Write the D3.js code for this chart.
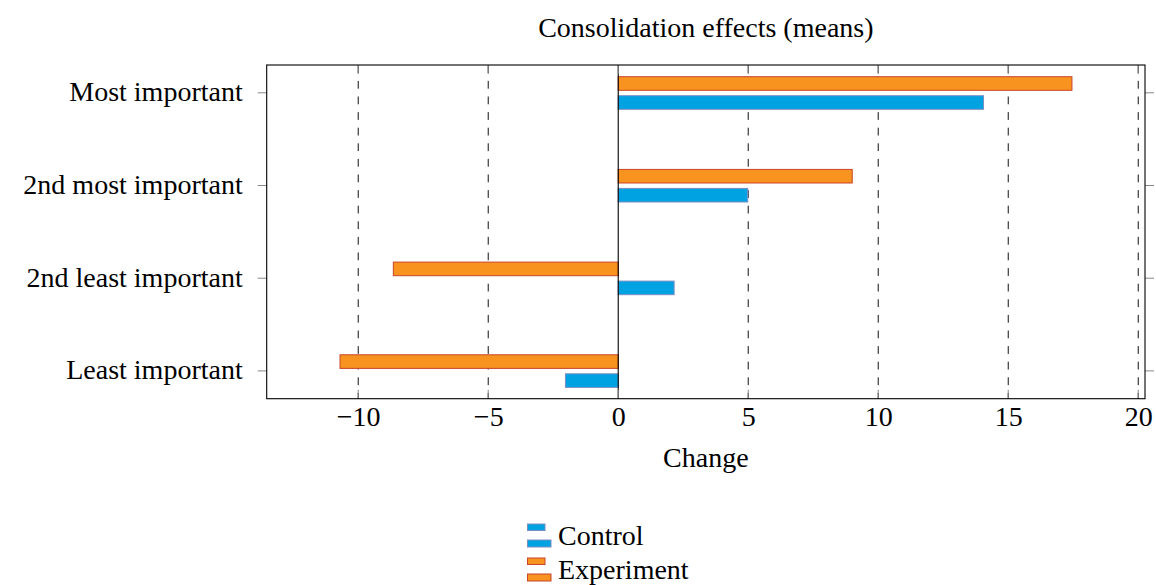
<!DOCTYPE html>
<html>
<head>
<meta charset="utf-8">
<script src="https://cdn.jsdelivr.net/npm/d3@7"></script>
<style>
  body { margin: 0; background: #fff; }
</style>
</head>
<body>
<svg id="chart" width="1156" height="585"></svg>
<script>
// data
var categories = ["Most important", "2nd most important", "2nd least important", "Least important"];
var controlValues = [14.05, 4.98, 2.15, -2.03];
var experimentValues = [17.45, 9.0, -8.65, -10.7];
var xTickValues = [-10, -5, 0, 5, 10, 15, 20];
var seriesNames = ["Control", "Experiment"];

var fillColor = {Control: "#00a2e1", Experiment: "#f7931e"};
var strokeColor = {Control: "#7b8ec4", Experiment: "#c9452a"};

var svg = d3.select("#chart");
var fontFam = "'Liberation Serif', 'DejaVu Serif', serif";
var fontSize = 28;

var plotLeft = 266.7, plotRight = 1145, plotTop = 65, plotBottom = 398.7;

var xScale = d3.scaleLinear()
    .domain([-13.52, 20.26])
    .range([plotLeft, plotRight]);

var yScale = d3.scaleLinear()
    .domain([-0.3, 3.3])
    .range([plotTop, plotBottom]);

var barH = 13.6;

function addText(sel) {
    return sel.append("text")
	.attr("font-family", fontFam)
	.attr("font-size", fontSize)
	.attr("fill", "#000");
}

function drawGrid() {
    var g = svg.append("g").attr("class", "grid");
    g.selectAll("line")
	.data(xTickValues.filter(function(d){return d != 0;}))
	.enter().append("line")
	.attr("x1", function(d){return xScale(d);})
	.attr("x2", function(d){return xScale(d);})
	.attr("y1", plotBottom)
	.attr("y2", plotTop)
	.attr("stroke", "#111")
	.attr("stroke-width", 1)
	.attr("stroke-dasharray", "7.8,7.8")
	.attr("stroke-dashoffset", 2);
}

function drawBars() {
    var rows = categories.map(function(c, i){
	return [
	    {name: "Experiment", i: i, v: experimentValues[i], off: -16.1},
	    {name: "Control", i: i, v: controlValues[i], off: 2.9}
	];
    });
    var flat = d3.merge(rows);

    svg.append("g").attr("class", "bars")
	.selectAll("rect")
	.data(flat)
	.enter().append("rect")
	.attr("x", function(d){return xScale(Math.min(0, d.v));})
	.attr("y", function(d){return yScale(d.i) + d.off;})
	.attr("width", function(d){return Math.abs(xScale(d.v) - xScale(0));})
	.attr("height", barH)
	.attr("fill", function(d){return fillColor[d.name];})
	.attr("stroke", function(d){return strokeColor[d.name];})
	.attr("stroke-width", 1);

    // zero line
    svg.append("line")
	.attr("x1", xScale(0)).attr("x2", xScale(0))
	.attr("y1", plotTop).attr("y2", plotBottom)
	.attr("stroke", "#000")
	.attr("stroke-width", 1.1);
}

function drawAxes() {
    // x ticks, inside, top and bottom
    var tickG = svg.append("g").attr("class", "ticks");
    xTickValues.forEach(function(d){
	tickG.append("line")
	    .attr("x1", xScale(d)).attr("x2", xScale(d))
	    .attr("y1", plotTop).attr("y2", plotTop + 9)
	    .attr("stroke", "#888").attr("stroke-width", 1);
	tickG.append("line")
	    .attr("x1", xScale(d)).attr("x2", xScale(d))
	    .attr("y1", plotBottom).attr("y2", plotBottom - 9)
	    .attr("stroke", "#888").attr("stroke-width", 1);
    });
    // y ticks, outside, left and right
    categories.forEach(function(c, i){
	tickG.append("line")
	    .attr("x1", plotLeft - 9).attr("x2", plotLeft)
	    .attr("y1", yScale(i)).attr("y2", yScale(i))
	    .attr("stroke", "#888").attr("stroke-width", 1);
	tickG.append("line")
	    .attr("x1", plotRight).attr("x2", plotRight + 9)
	    .attr("y1", yScale(i)).attr("y2", yScale(i))
	    .attr("stroke", "#888").attr("stroke-width", 1);
    });

    // frame
    svg.append("rect")
	.attr("x", plotLeft).attr("y", plotTop)
	.attr("width", plotRight - plotLeft)
	.attr("height", plotBottom - plotTop)
	.attr("fill", "none")
	.attr("stroke", "#000")
	.attr("stroke-width", 1.1);

    // tick labels through the d3 axis generators
    var xAxis = d3.axisBottom(xScale)
	.tickValues(xTickValues)
	.tickSize(0)
	.tickFormat(function(d){return d < 0 ? "\u2212" + Math.abs(d) : d;});
    var gx = svg.append("g")
	.attr("transform", "translate(0," + plotBottom + ")")
	.call(xAxis)
	.attr("font-family", fontFam)
	.attr("font-size", fontSize);
    gx.select(".domain").remove();
    gx.selectAll("text")
	.attr("y", 27.5)
	.attr("dy", 0)
	.attr("fill", "#000");

    var yAxis = d3.axisLeft(yScale)
	.tickValues(d3.range(categories.length))
	.tickSize(0)
	.tickFormat(function(d){return categories[d];});
    var gy = svg.append("g")
	.attr("transform", "translate(" + plotLeft + ",0)")
	.call(yAxis)
	.attr("font-family", fontFam)
	.attr("font-size", fontSize);
    gy.select(".domain").remove();
    gy.selectAll("text")
	.attr("x", -24)
	.attr("dy", 0)
	.attr("y", 8)
	.attr("fill", "#000");

    addText(svg)
	.attr("x", (plotLeft + plotRight) / 2)
	.attr("y", 467)
	.attr("text-anchor", "middle")
	.text("Change");

    addText(svg)
	.attr("x", (plotLeft + plotRight) / 2)
	.attr("y", 37)
	.attr("text-anchor", "middle")
	.text("Consolidation effects (means)");
}

function drawLegend() {
    var leg = svg.append("g").attr("transform", "translate(527,0)");
    var rowsY = [524, 558];
    seriesNames.forEach(function(s, i){
	var y0 = rowsY[i];
	leg.append("rect")
	    .attr("x", 0.5).attr("y", y0)
	    .attr("width", 17.5).attr("height", 6.5)
	    .attr("fill", fillColor[s]).attr("stroke", strokeColor[s]);
	leg.append("rect")
	    .attr("x", 0.5).attr("y", y0 + 16)
	    .attr("width", 23.5).attr("height", 7)
	    .attr("fill", fillColor[s]).attr("stroke", strokeColor[s]);
	addText(leg)
	    .attr("x", 31)
	    .attr("y", y0 + 21)
	    .text(s);
    });
}

drawGrid();
drawBars();
drawAxes();
drawLegend();
</script>
</body>
</html>
